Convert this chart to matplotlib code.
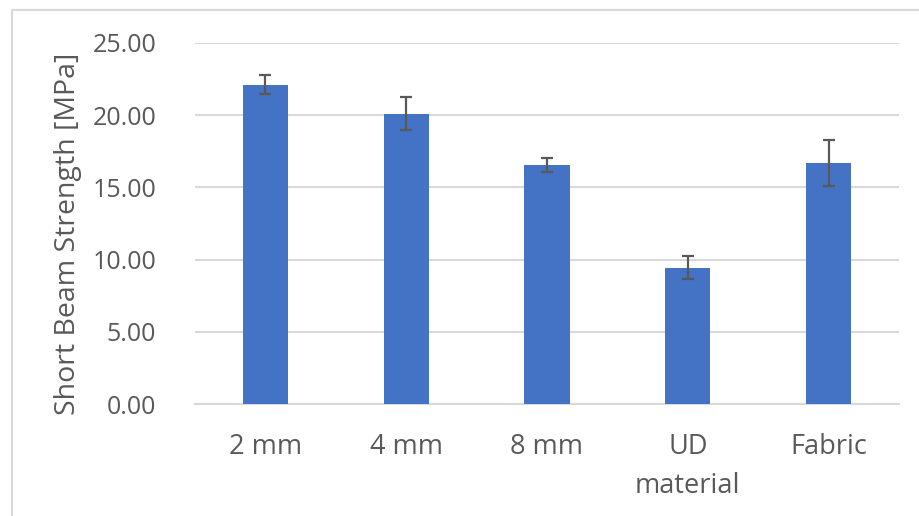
import matplotlib
matplotlib.use("Agg")
import matplotlib.pyplot as plt
from matplotlib.patches import Rectangle

categories = ["2 mm", "4 mm", "8 mm", "UD\nmaterial", "Fabric"]
values = [22.10, 20.10, 16.57, 9.44, 16.69]
errors = [0.65, 1.15, 0.48, 0.78, 1.57]
yticks = [0, 5, 10, 15, 20, 25]
ytick_labels = ["0.00", "5.00", "10.00", "15.00", "20.00", "25.00"]

plt.rcParams['font.family'] = ['Open Sans', 'DejaVu Sans']
text_color = "#595959"
grid_color = "#D9D9D9"

fig = plt.figure(figsize=(9.19, 5.16), dpi=100)
W, H = 919, 516
ax = fig.add_axes([195 / W, (H - 404) / H, (899 - 195) / W, (404 - 43) / H])

x = list(range(len(categories)))
ax.bar(x, values, width=0.32, color="#4472C4", zorder=3)
ax.errorbar(x, values, yerr=errors, fmt="none", ecolor="#595959",
            elinewidth=1.6, capsize=4.5, capthick=1.6, zorder=4)

ax.set_xlim(-0.5, len(categories) - 0.5)
ax.set_ylim(0, 25)
ax.set_yticks(yticks)
ax.set_yticklabels(ytick_labels)
ax.set_xticks(x)
ax.set_xticklabels(categories, linespacing=1.5, fontsize=19.5)
ax.grid(axis="y", color=grid_color, linewidth=1.5, zorder=0)
for s in ["top", "right", "left"]:
    ax.spines[s].set_visible(False)
ax.spines["bottom"].set_color(grid_color)
ax.spines["bottom"].set_linewidth(1.5)
ax.tick_params(axis="y", length=0, labelsize=18, colors=text_color, pad=28)
ax.tick_params(axis="x", length=0, colors=text_color, pad=21)

ax.set_ylabel("Short Beam Strength [MPa]", fontsize=20.5, color=text_color,
              va="baseline", ha="center")
ax.yaxis.set_label_coords(-0.1705, 0.471)

fig.add_artist(Rectangle((12 / W, -0.1), 1.2, (H - 10) / H + 0.1,
                         transform=fig.transFigure, fill=False,
                         edgecolor=grid_color, linewidth=1.5))

fig.savefig("out.png", dpi=100)
